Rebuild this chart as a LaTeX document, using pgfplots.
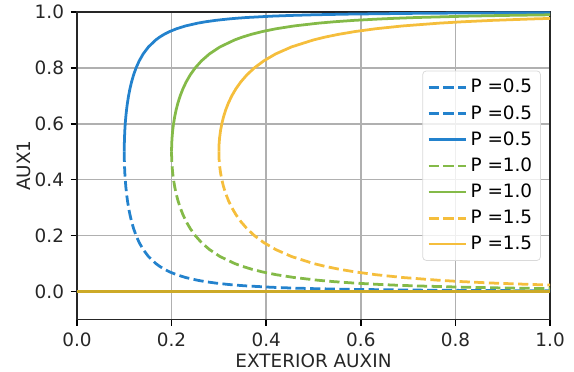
\documentclass[border=0pt]{standalone}
\usepackage{fontspec}
\setmainfont{DejaVu Sans}
\usepackage{pgfplots}
\usepackage{pgfplotstable}
\pgfplotsset{compat=1.18}
\definecolor{cblue}{RGB}{35,130,205}
\definecolor{cgreen}{RGB}{132,186,72}
\definecolor{corange}{RGB}{245,190,60}
\definecolor{czero}{RGB}{205,170,40}
\definecolor{cgrid}{RGB}{176,176,176}
\pgfplotstableread{
yu yl xb xg xo
0.5 0.5 0.1 0.2 0.3
0.51 0.49 0.10002 0.20004 0.30006
0.52 0.48 0.10008 0.20016 0.30024
0.53 0.47 0.10018 0.20036 0.30054
0.55 0.45 0.10050 0.20101 0.30151
0.575 0.425 0.10114 0.20229 0.30343
0.6 0.4 0.10206 0.20412 0.30619
0.625 0.375 0.10328 0.20656 0.30984
0.65 0.35 0.10483 0.20966 0.31448
0.675 0.325 0.10675 0.21350 0.32026
0.7 0.3 0.10911 0.21822 0.32733
0.725 0.275 0.11198 0.22396 0.33593
0.75 0.25 0.11547 0.23094 0.34641
0.775 0.225 0.11974 0.23947 0.35921
0.8 0.2 0.125 0.25 0.375
0.825 0.175 0.13159 0.26318 0.39477
0.85 0.15 0.14003 0.28006 0.42008
0.875 0.125 0.15119 0.30237 0.45356
0.9 0.1 0.16667 0.33333 0.5
0.91 0.09 0.17471 0.34943 0.52414
0.92 0.08 0.18430 0.36860 0.55291
0.93 0.07 0.19597 0.39193 0.58790
0.94 0.06 0.21054 0.42108 0.63161
0.95 0.05 0.22942 0.45883 0.68825
0.96 0.04 0.25516 0.51031 0.76547
0.965 0.035 0.27206 0.54413 0.81619
0.97 0.03 0.29311 0.58621 0.87932
0.975 0.025 0.32026 0.64051 0.96077
0.9775 0.0225 0.33715 0.67429 1.01144
0.98 0.02 0.35714 0.71429 1.07143
0.985 0.015 0.41135 0.82269 1.23404
0.9875 0.0125 0.45004 0.90007 1.35011
0.99 0.01 0.50252 1.00504 1.50756
0.9925 0.0075 0.57953 1.15905 1.73858
0.995 0.005 0.70888 1.41776 2.12664
0.996 0.004 0.79216 1.58431 2.37647
0.997 0.003 0.91424 1.82848 2.74273
0.9975 0.0025 1.00125 2.00250 3.00375
}\curves
\begin{document}
\begin{tikzpicture}
\begin{axis}[
  width=257pt, height=167pt, scale only axis,
  xmin=0, xmax=1, ymin=-0.1, ymax=1.0,
  xtick={0,0.2,0.4,0.6,0.8,1.0},
  ytick={0,0.2,0.4,0.6,0.8,1.0},
  /pgf/number format/assume math mode=true,
  /pgf/number format/fixed,
  /pgf/number format/fixed zerofill,
  /pgf/number format/precision=1,
  tick label style={font=\fontsize{10}{12}\selectfont, text=black!85},
  label style={font=\fontsize{10}{12}\selectfont, text=black!85},
  ylabel style={yshift=-4.5pt},
  xlabel style={yshift=3pt},
  tick align=outside, tick pos=left,
  major tick length=3.5pt,
  every tick/.style={black, line width=0.8pt},
  axis line style={line width=0.8pt, black!85},
  grid=major, grid style={cgrid, line width=0.8pt},
  xlabel={EXTERIOR AUXIN}, ylabel={AUX1},
  legend cell align=left,
  legend image code/.code={\draw[#1] (0pt,0pt) -- (20pt,0pt);},
  legend style={at={(rel axis cs:1,0.5)}, anchor=east, xshift=-5pt,
    draw=black!15, rounded corners=2pt, fill=white, fill opacity=0.8, text opacity=1,
    font=\fontsize{10}{12}\selectfont, row sep=1.3pt, inner sep=2.5pt,
    /tikz/every even column/.append style={column sep=0pt}},
  dashstyle/.style={dash pattern=on 5.55pt off 2.4pt},
  every axis plot/.append style={line width=1.5pt},
  clip=true,
]
\addplot[cblue, dashstyle] coordinates {(0,0) (1,0)};
\addlegendentry{P =0.5}
\addplot[cblue, dashstyle] table[x=xb, y=yl] {\curves};
\addlegendentry{P =0.5}
\addplot[cblue] table[x=xb, y=yu] {\curves};
\addlegendentry{P =0.5}
\addplot[cgreen, dashstyle] table[x=xg, y=yl] {\curves};
\addlegendentry{P =1.0}
\addplot[cgreen] table[x=xg, y=yu] {\curves};
\addlegendentry{P =1.0}
\addplot[corange, dashstyle] table[x=xo, y=yl] {\curves};
\addlegendentry{P =1.5}
\addplot[corange] table[x=xo, y=yu] {\curves};
\addlegendentry{P =1.5}
\addplot[czero, forget plot] coordinates {(0,0) (1,0)};
\coordinate (sw) at (rel axis cs:0,0);
\coordinate (ne) at (rel axis cs:1,1);
\end{axis}
\pgfresetboundingbox
\path ([shift={(-41.8pt,-28.3pt)}]sw) rectangle ([shift={(13pt,6.5pt)}]ne);
\end{tikzpicture}
\end{document}
